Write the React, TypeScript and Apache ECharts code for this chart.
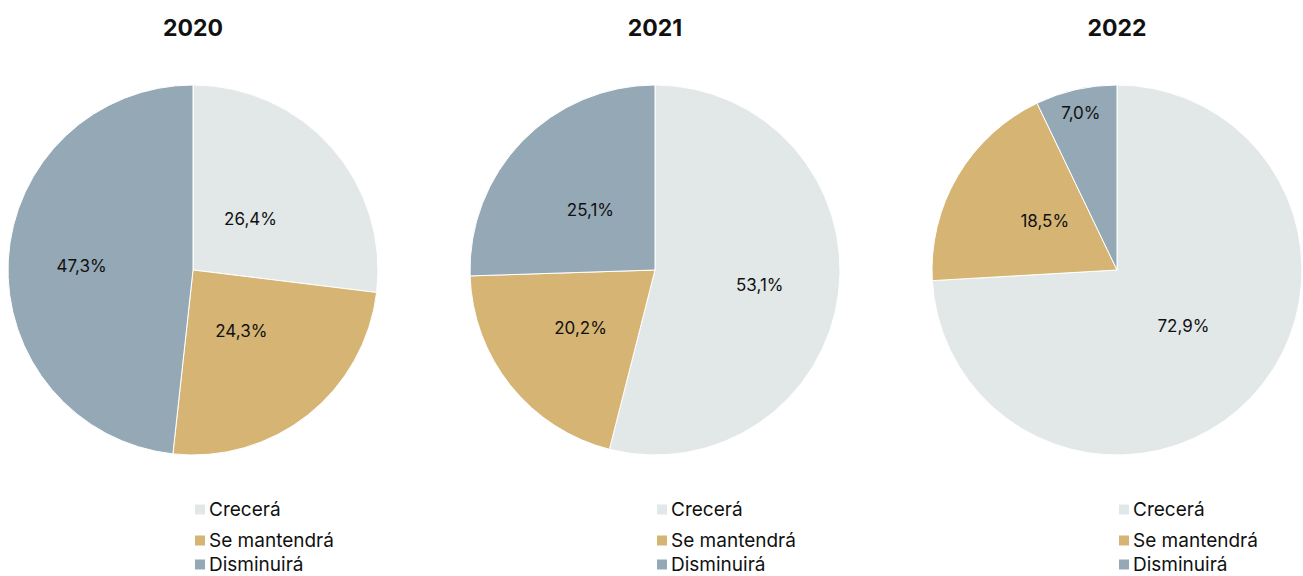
import React, { useEffect, useRef } from "react";
import * as echarts from "echarts";

const years = ["2020", "2021", "2022"];
const categories = ["Crecerá", "Se mantendrá", "Disminuirá"];
const values2020 = [26.4, 24.3, 47.3];
const values2021 = [53.1, 20.2, 25.1];
const values2022 = [72.9, 18.5, 7.0];
const allValues = [values2020, values2021, values2022];
const colors = ["#e2e8e8", "#d6b574", "#94a8b5"];

// label nudges (style only)
const labelOffsets = [
  [[-14, 12], [-11, -14], [-16, 1]],
  [[10, 3], [0, -2], [4, 6]],
  [[-3, -10], [10, 0], [-15, -64]],
];

const centersX = [193, 655, 1117];
const centerY = 270;
const radius = 185;
const legendTops = [500, 531, 555];

export default function App() {
  const ref = useRef<HTMLDivElement>(null);
  useEffect(() => {
    if (!ref.current) return;
    const chart = echarts.init(ref.current, null, { renderer: "svg" });
    const fmt = (v: number) => v.toFixed(1).replace(".", ",") + "%";
    const series = allValues.map((vals, i) => ({
      type: "pie",
      center: [centersX[i], centerY],
      radius: [0, radius],
      startAngle: 90,
      clockwise: true,
      avoidLabelOverlap: false,
      silent: true,
      label: {
        show: true,
        position: "inside",
        color: "#111",
        fontSize: 17,
        fontFamily: "Inter",
        formatter: (p: any) => fmt(p.value),
      },
      labelLine: { show: false },
      itemStyle: { borderColor: "#fff", borderWidth: 1 },
      data: vals.map((v, j) => ({
        name: categories[j],
        value: v,
        itemStyle: { color: colors[j] },
        label: { offset: labelOffsets[i][j] },
      })),
    }));
    const titles = years.map((y, i) => ({
      text: y,
      left: centersX[i],
      top: 16,
      padding: 0,
      textAlign: "center",
      textStyle: { fontSize: 23, fontWeight: "bold", color: "#111", fontFamily: "Inter" },
    }));
    const legends: any[] = [];
    centersX.forEach((cx) => {
      categories.forEach((c, j) => {
        legends.push({
          data: [{ name: c, icon: "rect", itemStyle: { color: colors[j] } }],
          left: cx,
          top: legendTops[j],
          itemWidth: 12,
          itemHeight: 12,
          itemGap: 0,
          padding: 0,
          selectedMode: false,
          textStyle: {
            fontSize: 19,
            lineHeight: 19,
            color: "#111",
            fontFamily: "Inter",
            padding: [0, 0, 0, -2],
          },
        });
      });
    });
    chart.setOption({
      animation: false,
      title: titles,
      legend: legends,
      series,
    });
    return () => chart.dispose();
  }, []);
  return (
    <div
      ref={ref}
      style={{ position: "fixed", left: 0, top: 0, width: 1303, height: 576, background: "#fff" }}
    />
  );
}
